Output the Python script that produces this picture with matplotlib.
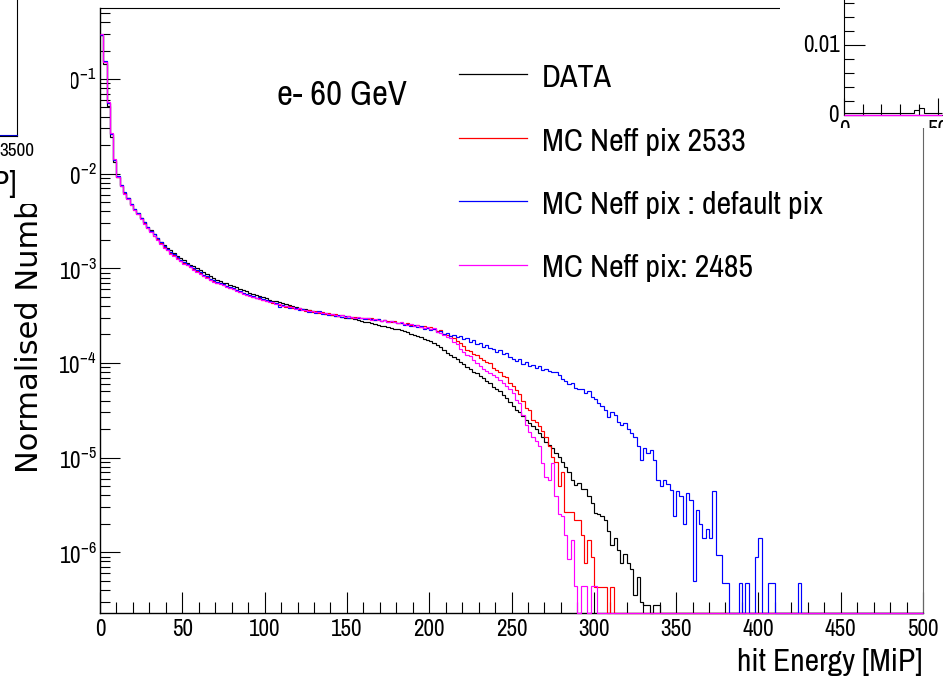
import numpy as np
import matplotlib
matplotlib.use("Agg")
import matplotlib.pyplot as plt
from matplotlib import font_manager
from matplotlib.lines import Line2D
from matplotlib.patches import Rectangle
from matplotlib.transforms import Bbox, TransformedBbox
from matplotlib.ticker import FixedLocator, FixedFormatter, LogLocator, NullFormatter

# ---------------- data (log10 of normalised counts, 2 MiP bins, None = empty) -------------
bin_width = 2.0
x_min, x_max = 0.0, 500.0

data_log10 = [
    -0.54, -0.84, -1.28, -1.61, -1.88, -2.04, -2.13, -2.20, -2.26, -2.32,
    -2.37, -2.42, -2.47, -2.51, -2.56, -2.60, -2.64, -2.68, -2.72, -2.75,
    -2.78, -2.81, -2.84, -2.87, -2.89, -2.91, -2.94, -2.96, -2.98, -3.00,
    -3.02, -3.04, -3.06, -3.08, -3.10, -3.12, -3.13, -3.15, -3.16, -3.18,
    -3.19, -3.20, -3.22, -3.23, -3.24, -3.26, -3.27, -3.28, -3.29, -3.30,
    -3.31, -3.33, -3.34, -3.35, -3.36, -3.37, -3.38, -3.39, -3.40, -3.41,
    -3.42, -3.43, -3.43, -3.44, -3.45, -3.46, -3.46, -3.47, -3.48, -3.48,
    -3.49, -3.50, -3.50, -3.51, -3.52, -3.52, -3.53, -3.54, -3.55, -3.56,
    -3.565, -3.57, -3.58, -3.59, -3.595, -3.605, -3.61, -3.62, -3.63, -3.64,
    -3.645, -3.655, -3.66, -3.675, -3.69, -3.70, -3.715, -3.73, -3.745, -3.76,
    -3.77, -3.79, -3.81, -3.83, -3.86, -3.89, -3.915, -3.94, -3.96, -3.99,
    -4.01, -4.04, -4.06, -4.09, -4.11, -4.14, -4.16, -4.19, -4.21, -4.25,
    -4.27, -4.30, -4.34, -4.37, -4.41, -4.45, -4.50, -4.52, -4.56, -4.60,
    -4.63, -4.67, -4.70, -4.74, -4.78, -4.83, -4.87, -4.90, -4.95, -4.99,
    -5.05, -5.10, -5.15, -5.24, -5.29, -5.27, -5.33, -5.33, -5.40, -5.48,
    -5.58, -5.60, -5.62, -5.66, -5.78, -5.92, -5.85, -5.98, -6.11, -6.02,
    -6.11, -6.18, -6.45, -6.26, -6.52, -6.56, -6.56, None, -6.56, -6.56,
]

mc2533_log10 = [
    -0.53, -0.82, -1.25, -1.58, -1.86, -2.03, -2.12, -2.20, -2.26, -2.33,
    -2.38, -2.43, -2.47, -2.52, -2.57, -2.61, -2.66, -2.69, -2.73, -2.77,
    -2.81, -2.84, -2.86, -2.89, -2.92, -2.94, -2.96, -2.99, -3.01, -3.03,
    -3.05, -3.08, -3.09, -3.12, -3.13, -3.15, -3.16, -3.18, -3.19, -3.21,
    -3.22, -3.23, -3.25, -3.26, -3.28, -3.28, -3.30, -3.31, -3.31, -3.33,
    -3.34, -3.35, -3.37, -3.37, -3.39, -3.39, -3.41, -3.40, -3.42, -3.42,
    -3.43, -3.43, -3.45, -3.44, -3.46, -3.45, -3.47, -3.46, -3.48, -3.47,
    -3.49, -3.48, -3.50, -3.49, -3.51, -3.50, -3.52, -3.51, -3.52, -3.53,
    -3.52, -3.54, -3.53, -3.55, -3.54, -3.56, -3.55, -3.56, -3.57, -3.56,
    -3.58, -3.58, -3.59, -3.58, -3.60, -3.61, -3.60, -3.62, -3.61, -3.63,
    -3.62, -3.64, -3.66, -3.65, -3.69, -3.70, -3.72, -3.74, -3.77, -3.79,
    -3.82, -3.86, -3.87, -3.90, -3.92, -3.95, -3.97, -3.99, -4.00, -4.05,
    -4.07, -4.09, -4.14, -4.15, -4.21, -4.24, -4.29, -4.33, -4.40, -4.48,
    -4.50, -4.60, -4.62, -4.67, -4.72, -4.78, -4.88, -4.99, -5.05, -5.30,
    -5.15, -5.57, -5.57, -5.57, -5.66, -5.66, -5.82, -6.11, -5.87, -6.05,
    -6.37, -6.37, -6.37, -6.37, None, -6.37,
]

mcdefault_log10 = [
    -0.53, -0.81, -1.25, -1.58, -1.86, -2.02, -2.12, -2.19, -2.26, -2.32,
    -2.37, -2.42, -2.47, -2.51, -2.56, -2.61, -2.64, -2.68, -2.72, -2.76,
    -2.80, -2.83, -2.85, -2.88, -2.91, -2.93, -2.95, -2.98, -3.00, -3.02,
    -3.04, -3.07, -3.08, -3.11, -3.12, -3.14, -3.16, -3.17, -3.19, -3.20,
    -3.21, -3.23, -3.24, -3.26, -3.27, -3.28, -3.29, -3.31, -3.30, -3.32,
    -3.33, -3.35, -3.36, -3.37, -3.41, -3.39, -3.40, -3.42, -3.41, -3.42,
    -3.44, -3.43, -3.44, -3.46, -3.45, -3.47, -3.45, -3.48, -3.47, -3.49,
    -3.48, -3.50, -3.49, -3.51, -3.50, -3.52, -3.51, -3.52, -3.53, -3.52,
    -3.54, -3.53, -3.54, -3.55, -3.54, -3.56, -3.55, -3.57, -3.56, -3.57,
    -3.58, -3.58, -3.60, -3.59, -3.61, -3.60, -3.62, -3.61, -3.64, -3.63,
    -3.65, -3.64, -3.67, -3.66, -3.69, -3.68, -3.71, -3.70, -3.73, -3.72,
    -3.75, -3.74, -3.78, -3.76, -3.80, -3.79, -3.83, -3.81, -3.84, -3.85,
    -3.88, -3.86, -3.91, -3.89, -3.94, -3.96, -3.98, -3.96, -4.01, -3.99,
    -4.03, -4.02, -4.05, -4.03, -4.07, -4.06, -4.08, -4.10, -4.09, -4.13,
    -4.17, -4.19, -4.22, -4.21, -4.26, -4.28, -4.27, -4.32, -4.30, -4.36,
    -4.38, -4.42, -4.45, -4.50, -4.57, -4.52, -4.55, -4.62, -4.66, -4.63,
    -4.70, -4.74, -4.78, -4.88, -5.02, -4.90, -4.95, -4.92, -5.02, -5.24,
    -5.30, -5.24, -5.28, -5.34, -5.62, -5.35, -5.40, -5.70, -5.37, -5.45,
    -6.30, -5.55, -5.70, -5.85, -5.75, -5.85, -5.35, -6.03, -6.03, -6.32,
    -6.32, None, None, None, -6.32, None, -6.32, None, None, -6.05,
    -5.85, None, None, -6.32, -6.32, None, None, None, None, None,
    None, None, -6.32,
]

mc2485_log10 = [
    -0.52, -0.82, -1.24, -1.57, -1.85, -2.03, -2.13, -2.21, -2.27, -2.33,
    -2.38, -2.43, -2.48, -2.53, -2.57, -2.62, -2.66, -2.70, -2.74, -2.78,
    -2.81, -2.85, -2.87, -2.90, -2.92, -2.95, -2.97, -2.99, -3.02, -3.04,
    -3.06, -3.08, -3.10, -3.12, -3.14, -3.15, -3.17, -3.18, -3.20, -3.21,
    -3.22, -3.24, -3.25, -3.27, -3.28, -3.29, -3.30, -3.31, -3.32, -3.33,
    -3.34, -3.36, -3.36, -3.38, -3.38, -3.40, -3.40, -3.41, -3.41, -3.43,
    -3.42, -3.44, -3.44, -3.45, -3.45, -3.46, -3.46, -3.47, -3.47, -3.48,
    -3.48, -3.49, -3.50, -3.49, -3.51, -3.50, -3.51, -3.52, -3.51, -3.53,
    -3.53, -3.53, -3.55, -3.54, -3.55, -3.56, -3.55, -3.57, -3.56, -3.57,
    -3.58, -3.57, -3.59, -3.60, -3.59, -3.61, -3.60, -3.62, -3.63, -3.62,
    -3.64, -3.63, -3.67, -3.68, -3.70, -3.73, -3.74, -3.78, -3.80, -3.85,
    -3.88, -3.92, -3.93, -3.97, -4.00, -4.03, -4.06, -4.08, -4.11, -4.13,
    -4.15, -4.18, -4.21, -4.24, -4.28, -4.32, -4.39, -4.42, -4.55, -4.65,
    -4.73, -4.78, -4.82, -4.88, -5.06, -5.20, -5.24, -5.06, -5.40, -5.60,
    -5.62, -5.82, -6.07, -5.87, -6.36, None, -6.36, -6.36, None, -6.36,
    -6.36,
]

series_labels = ["DATA", "MC Neff pix 2533", "MC Neff pix : default pix", "MC Neff pix: 2485"]
series_colors = ["#000000", "#ff0000", "#0000ff", "#ff00ff"]

y_major_exponents = [-6, -5, -4, -3, -2, -1]
x_major_ticks = [0, 50, 100, 150, 200, 250, 300, 350, 400, 450, 500]

# neighbouring (top right) pad content
inset_bin_width = 2.5
inset_data = [0.00024, 0.00024, 0.00028, 0.00024, 0.00030, 0.00024, 0.00024, 0.00026,
              0.00024, 0.00024, 0.00026, 0.00024, 0.00024, 0.00026, 0.00030, 0.00070,
              0.00096, 0.00030, 0.00024, 0.00024, 0.00024]

# ---------------- style ----------------
W, H, DPI = 943, 686, 100
names = {f.name for f in font_manager.fontManager.ttflist}
NARROW = "Liberation Sans"
for cand in ["Nimbus Sans Narrow", "Liberation Sans Narrow", "Arial Narrow", "Archivo Narrow",
             "Roboto Condensed", "PT Sans Narrow", "Liberation Sans"]:
    if cand in names:
        NARROW = cand
        break
plt.rcParams["font.family"] = [NARROW, "DejaVu Sans"]
plt.rcParams["mathtext.fontset"] = "custom"
plt.rcParams["mathtext.rm"] = NARROW
plt.rcParams["mathtext.it"] = NARROW
plt.rcParams["mathtext.bf"] = NARROW

YMIN = 10 ** (-6.641)
YMAX = 10 ** (-0.25)


def to_counts(lst):
    n = int(round((x_max - x_min) / bin_width))
    full = list(lst) + [None] * (n - len(lst))
    return np.array([YMIN if v is None else 10.0 ** v for v in full])


edges = np.arange(x_min, x_max + bin_width / 2, bin_width)


def fx(x):
    return x / W


def fy(y):
    return 1.0 - y / H


fig = plt.figure(figsize=(W / DPI, H / DPI), dpi=DPI, facecolor="white")
renderer = fig.canvas.get_renderer()


def fit_size(sample, target_px, base=20.0, **kw):
    t = fig.text(0, 0, sample, fontsize=base, **kw)
    w = t.get_window_extent(renderer).width
    t.remove()
    return base * target_px / w


# sizes fitted to the reference text widths, then enlarged a little because the
# reference glyphs are taller than they are wide
tick_fs = fit_size("450", 27) * 1.17
legend_fs = fit_size("MC Neff pix : default pix", 263) * 1.07
title_fs = fit_size("e- 60 GeV", 120) * 1.08
xlab_fs = fit_size("hit Energy [MiP]", 175) * 1.06
small_fs = fit_size("3500", 32) * 1.1

ax = fig.add_axes([fx(100), fy(613), (923 - 100) / W, (613 - 8) / H])
ax.set_yscale("log")
ax.set_xlim(x_min, x_max)
ax.set_ylim(YMIN, YMAX)

for arr, col in zip([data_log10, mc2533_log10, mcdefault_log10, mc2485_log10], series_colors):
    ax.stairs(to_counts(arr), edges, color=col, lw=0.85, baseline=None, zorder=3, clip_on=False)

ax.xaxis.set_major_locator(FixedLocator(x_major_ticks))
ax.xaxis.set_minor_locator(FixedLocator(np.arange(0, 501, 10)))
ax.yaxis.set_major_locator(FixedLocator([10.0 ** e for e in y_major_exponents]))
ax.yaxis.set_major_formatter(FixedFormatter([r"$\mathregular{10^{%d}}$" % e for e in y_major_exponents]))
ax.yaxis.set_minor_locator(LogLocator(base=10, subs=np.arange(2, 10), numticks=30))
ax.yaxis.set_minor_formatter(NullFormatter())

ax.tick_params(which="both", direction="in", top=False, right=False, color="black")
ax.tick_params(axis="y", which="major", length=14.4, width=0.8, pad=2.5, labelsize=tick_fs)
ax.tick_params(axis="y", which="minor", length=7.2, width=0.8)
ax.tick_params(axis="x", which="major", length=15, width=0.8, pad=4.0, labelsize=tick_fs)
ax.tick_params(axis="x", which="minor", length=8, width=0.8)
for s in ["left", "bottom"]:
    ax.spines[s].set_linewidth(1.0)
ax.spines["top"].set_linewidth(0.8)
ax.spines["right"].set_linewidth(0.8)
ax.spines["right"].set_color("#666666")

# legend (drawn by hand to match the ROOT TLegend layout)
for i, (lab, col) in enumerate(zip(series_labels, series_colors)):
    yl = 74 + 63.5 * i
    fig.add_artist(Line2D([fx(459), fx(527)], [fy(yl), fy(yl)], color=col, lw=0.9))
    fig.text(fx(542), fy(yl + 13), lab, fontsize=legend_fs, ha="left", va="baseline")

fig.text(fx(277), fy(105), "e- 60 GeV", fontsize=title_fs, ha="left", va="baseline")
fig.text(fx(922), fy(671), "hit Energy [MiP]", fontsize=xlab_fs, ha="right", va="baseline")
fig.text(fx(38), fy(473), "Normalised Number of Hits", fontsize=22, family="DejaVu Sans",
         rotation=90, rotation_mode="anchor", ha="left", va="baseline")

# ---------------- neighbouring pads that overlap this canvas ----------------
# left pad
fig.add_artist(Rectangle((0, fy(204)), fx(71), 1 - fy(204), transform=fig.transFigure,
                         facecolor="white", edgecolor="none", zorder=10))
fig.add_artist(Line2D([fx(17), fx(17)], [fy(136), 1.0], color="black", lw=0.8, zorder=11))
fig.add_artist(Line2D([0, fx(17)], [fy(136), fy(136)], color="black", lw=0.8, zorder=11))
fig.add_artist(Line2D([0, fx(17)], [fy(134.5), fy(134.5)], color="#0000cc", lw=0.8, zorder=11))
fig.text(fx(17), fy(143), "3500", fontsize=small_fs, ha="center", va="top", zorder=11)
fig.text(fx(16.5), fy(193), "hit Energy [MiP]", fontsize=xlab_fs, ha="right", va="baseline", zorder=11)

# top-right pad
fig.add_artist(Rectangle((fx(780), fy(128)), 1 - fx(780), 1 - fy(128), transform=fig.transFigure,
                         facecolor="white", edgecolor="none", zorder=10))
ax2 = fig.add_axes([fx(844), fy(115), (943 - 844) / W, 115 / H], zorder=11)
ax2.set_xlim(0, 99 / 1.874)
ax2.set_ylim(0, 115 / 7000.0)
inset_edges = np.arange(0, inset_bin_width * len(inset_data) + 0.01, inset_bin_width)
ax2.stairs(inset_data, inset_edges, color="black", lw=0.8, baseline=None)
ax2.stairs(np.zeros(len(inset_data)), inset_edges, color="#ff00ff", lw=1.0, baseline=None,
           clip_on=False, zorder=4)
ax2.spines["top"].set_visible(False)
ax2.spines["right"].set_visible(False)
ax2.spines["left"].set_linewidth(0.8)
ax2.spines["bottom"].set_linewidth(0.8)
ax2.xaxis.set_major_locator(FixedLocator([0, 50]))
ax2.xaxis.set_minor_locator(FixedLocator([10, 20, 30, 40]))
ax2.yaxis.set_major_locator(FixedLocator([0, 0.01]))
ax2.yaxis.set_minor_locator(FixedLocator(np.arange(0.002, 0.0165, 0.002)))
ax2.tick_params(which="both", direction="in", labelleft=False, labelbottom=False, width=0.8)
ax2.tick_params(axis="y", which="major", length=15)
ax2.tick_params(axis="y", which="minor", length=7.5)
ax2.tick_params(axis="x", which="major", length=12)
ax2.tick_params(axis="x", which="minor", length=8)

clip = TransformedBbox(Bbox([[fx(780), fy(128)], [1.0, 1.0]]), fig.transFigure)
for (xx, yy, s, ha, va) in [(840, 45, "0.01", "right", "center"),
                            (839, 116, "0", "right", "center"),
                            (844, 120, "0", "center", "top"),
                            (937.7, 120, "50", "center", "top")]:
    tt = fig.text(fx(xx), fy(yy), s, fontsize=tick_fs, ha=ha, va=va, zorder=12)
    tt.set_clip_box(clip)
    tt.set_clip_on(True)

fig.savefig("out.png", dpi=DPI, facecolor="white")
